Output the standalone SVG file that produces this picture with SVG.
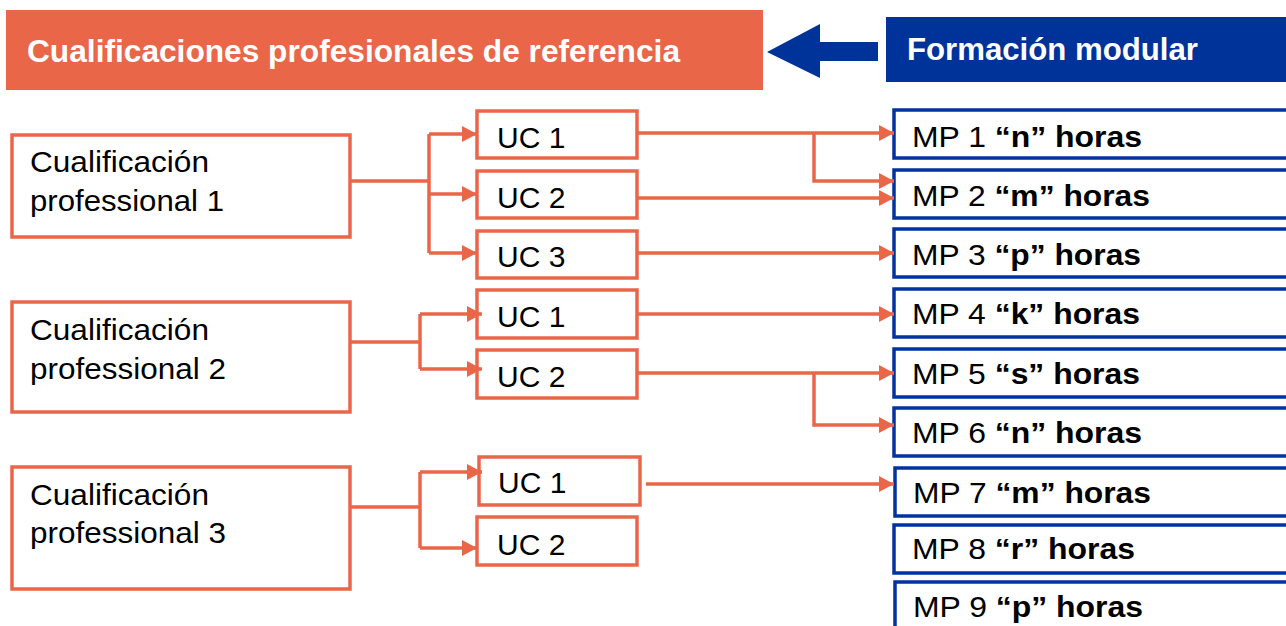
<svg xmlns="http://www.w3.org/2000/svg" width="1286" height="626" viewBox="0 0 1286 626">
<style>
.hdr{font-family:"Liberation Sans",Arial,sans-serif;font-weight:bold;font-size:31px;fill:#ffffff}
.ob{fill:#ffffff;stroke:#EA6649;stroke-width:3.5}
.bb{fill:#ffffff;stroke:#0033A0;stroke-width:3.5}
.t{font-family:"Liberation Sans",Arial,sans-serif;font-size:30px;fill:#000000}
.b{font-weight:bold}
.c{fill:none;stroke:#EA6649;stroke-width:3.5}
.a{fill:none;stroke:#EA6649;stroke-width:3.5;marker-end:url(#ah)}
</style>
<defs>
<marker id="ah" viewBox="0 0 15 16" refX="15" refY="8" markerWidth="15" markerHeight="16" markerUnits="userSpaceOnUse" orient="auto">
<path d="M0,0 L15,8 L0,16 z" fill="#EA6649"/>
</marker>
</defs>
<rect width="1286" height="626" fill="#ffffff"/>

<g id="header-cualificaciones">
<rect x="6" y="10" width="757" height="80" fill="#EA6649"/>
<text class="hdr" x="27" y="62" textLength="653" lengthAdjust="spacingAndGlyphs">Cualificaciones profesionales de referencia</text>
</g>
<g id="header-arrow">
<path d="M767,52 L820,24 L820,42 L878,42 L878,61 L820,61 L820,78 Z" fill="#003399"/>
</g>
<g id="header-formacion">
<rect x="886" y="17" width="400" height="65" fill="#003399"/>
<text class="hdr" x="907" y="60" textLength="291" lengthAdjust="spacingAndGlyphs">Formación modular</text>
</g>

<g id="cp1">
<rect class="ob" x="12" y="135" width="338" height="102"/>
<text class="t" x="30" y="172" textLength="179" lengthAdjust="spacingAndGlyphs">Cualificación</text>
<text class="t" x="30" y="211" textLength="194" lengthAdjust="spacingAndGlyphs">professional 1</text>
</g>
<g id="cp2">
<rect class="ob" x="12" y="302" width="338" height="110"/>
<text class="t" x="30" y="340" textLength="179" lengthAdjust="spacingAndGlyphs">Cualificación</text>
<text class="t" x="30" y="379" textLength="196" lengthAdjust="spacingAndGlyphs">professional 2</text>
</g>
<g id="cp3">
<rect class="ob" x="12" y="467" width="338" height="122"/>
<text class="t" x="30" y="505" textLength="179" lengthAdjust="spacingAndGlyphs">Cualificación</text>
<text class="t" x="30" y="543" textLength="196" lengthAdjust="spacingAndGlyphs">professional 3</text>
</g>

<g id="cp1-uc1"><rect class="ob" x="477" y="111" width="160" height="47"/><text class="t" x="497" y="148">UC 1</text></g>
<g id="cp1-uc2"><rect class="ob" x="477" y="171" width="160" height="47"/><text class="t" x="497" y="208">UC 2</text></g>
<g id="cp1-uc3"><rect class="ob" x="477" y="231" width="160" height="47"/><text class="t" x="497" y="267">UC 3</text></g>
<g id="cp2-uc1"><rect class="ob" x="477" y="290" width="160" height="48"/><text class="t" x="497" y="327">UC 1</text></g>
<g id="cp2-uc2"><rect class="ob" x="477" y="350" width="160" height="48"/><text class="t" x="497" y="387">UC 2</text></g>
<g id="cp3-uc1"><rect class="ob" x="479" y="457" width="161" height="48"/><text class="t" x="498" y="493">UC 1</text></g>
<g id="cp3-uc2"><rect class="ob" x="477" y="517" width="160" height="48"/><text class="t" x="497" y="555">UC 2</text></g>

<g id="mp1"><rect class="bb" x="894" y="110" width="400" height="48"/><text class="t" x="912" y="147" textLength="230" lengthAdjust="spacingAndGlyphs">MP 1 <tspan class="b">“n” horas</tspan></text></g>
<g id="mp2"><rect class="bb" x="894" y="170" width="400" height="48"/><text class="t" x="912" y="206" textLength="238" lengthAdjust="spacingAndGlyphs">MP 2 <tspan class="b">“m” horas</tspan></text></g>
<g id="mp3"><rect class="bb" x="894" y="229" width="400" height="48"/><text class="t" x="912" y="265" textLength="229" lengthAdjust="spacingAndGlyphs">MP 3 <tspan class="b">“p” horas</tspan></text></g>
<g id="mp4"><rect class="bb" x="894" y="289" width="400" height="48"/><text class="t" x="912" y="324" textLength="228" lengthAdjust="spacingAndGlyphs">MP 4 <tspan class="b">“k” horas</tspan></text></g>
<g id="mp5"><rect class="bb" x="894" y="349" width="400" height="48"/><text class="t" x="912" y="384" textLength="228" lengthAdjust="spacingAndGlyphs">MP 5 <tspan class="b">“s” horas</tspan></text></g>
<g id="mp6"><rect class="bb" x="894" y="408" width="400" height="48"/><text class="t" x="912" y="443" textLength="230" lengthAdjust="spacingAndGlyphs">MP 6 <tspan class="b">“n” horas</tspan></text></g>
<g id="mp7"><rect class="bb" x="895" y="468" width="400" height="48"/><text class="t" x="913" y="503" textLength="238" lengthAdjust="spacingAndGlyphs">MP 7 <tspan class="b">“m” horas</tspan></text></g>
<g id="mp8"><rect class="bb" x="894" y="525" width="400" height="48"/><text class="t" x="912" y="559" textLength="223" lengthAdjust="spacingAndGlyphs">MP 8 <tspan class="b">“r” horas</tspan></text></g>
<g id="mp9"><rect class="bb" x="895" y="582" width="400" height="60"/><text class="t" x="913" y="617" textLength="230" lengthAdjust="spacingAndGlyphs">MP 9 <tspan class="b">“p” horas</tspan></text></g>

<g id="connectors">
<path class="c" d="M350,181 H429 M429,134 V253"/>
<path class="a" d="M429,134 H477"/>
<path class="a" d="M429,194 H477"/>
<path class="a" d="M429,253 H477"/>
<path class="c" d="M350,342 H420 M420,314 V369"/>
<path class="a" d="M420,314 H482"/>
<path class="a" d="M420,369 H482"/>
<path class="c" d="M350,507 H420 M420,472 V548"/>
<path class="a" d="M420,472 H482"/>
<path class="a" d="M420,548 H477"/>
<path class="a" d="M637,133 H894"/>
<path class="a" d="M814,133 V181 H894"/>
<path class="a" d="M637,198 H894"/>
<path class="a" d="M637,253 H894"/>
<path class="a" d="M637,314 H894"/>
<path class="a" d="M637,373 H894"/>
<path class="a" d="M814,373 V425 H894"/>
<path class="a" d="M646,484 H894"/>
</g>
</svg>
